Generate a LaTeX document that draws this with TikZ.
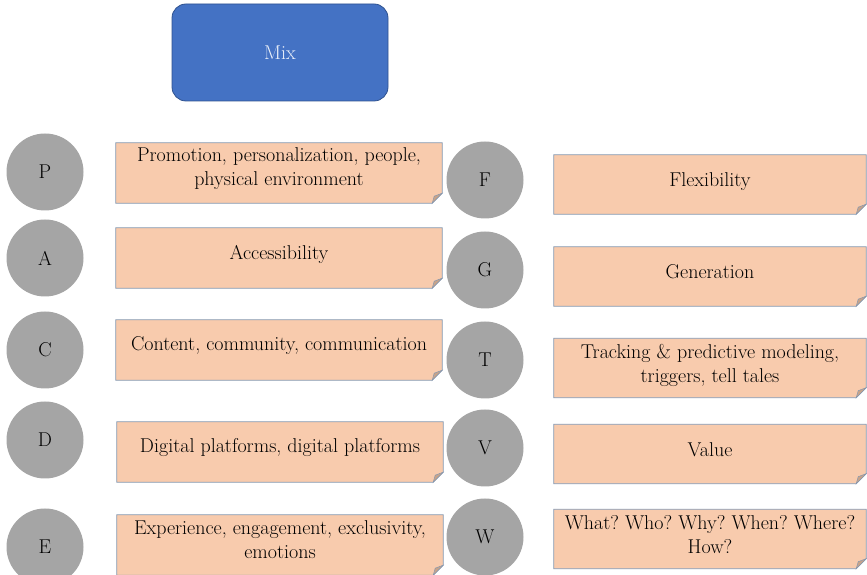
\documentclass[tikz,border=0pt]{standalone}
\frenchspacing
\usetikzlibrary{backgrounds}
\definecolor{boxfill}{RGB}{248,203,173}
\definecolor{boxline}{RGB}{132,151,176}
\definecolor{flapfill}{RGB}{199,163,138}
\definecolor{circfill}{RGB}{165,165,165}
\definecolor{mixfill}{RGB}{68,114,196}
\definecolor{mixline}{RGB}{47,82,143}
\definecolor{mixtext}{RGB}{236,241,250}
\newcommand\foldcorner[1]{%
  \begin{scope}[on background layer]
    \filldraw[fill=boxfill,draw=boxline,line width=0.8pt]
      (#1.north west) -- (#1.north east) -- ([yshift=10pt]#1.south east)
      -- ([xshift=-10pt]#1.south east) -- (#1.south west) -- cycle;
    \filldraw[fill=flapfill,draw=boxline,line width=0.5pt]
      ([yshift=10pt]#1.south east) -- ([xshift=-10pt]#1.south east)
      -- ([xshift=-8pt,yshift=7pt]#1.south east) -- cycle;
  \end{scope}}
\begin{document}
\begin{tikzpicture}[x=1pt,y=1pt,
  every node/.style={font=\rmfamily\fontsize{20}{24}\selectfont},
  letter/.style={circle,fill=circfill,minimum size=77pt,inner sep=0pt},
  lbox/.style={minimum width=326pt,minimum height=60pt,inner sep=0pt},
  rbox/.style={minimum width=312pt,minimum height=59pt,inner sep=0pt},
  boxtext/.style={align=center,inner sep=0pt},
  mixbox/.style={rounded corners=14pt,fill=mixfill,draw=mixline,line width=0.8pt,
    minimum width=216pt,minimum height=97pt,text=mixtext}]
\useasboundingbox (0,0) rectangle (867,575);
\node[mixbox] (mix) at (280,522.5) {Mix};

\node[letter] (cP) at (45,403) {P};
\node[letter] (cA) at (45,317) {A};
\node[letter] (cC) at (45,225) {C};
\node[letter] (cD) at (45,135) {D};
\node[letter] (cE) at (45,28) {E};

\node[lbox] (bP) at (279,402) {};
\node[lbox] (bA) at (279,317) {};
\node[lbox] (bC) at (279,225) {};
\node[lbox] (bD) at (280,123) {};
\node[lbox] (bE) at (280,30) {};
\foldcorner{bP}\foldcorner{bA}\foldcorner{bC}\foldcorner{bD}\foldcorner{bE}
\node[boxtext] (tP) at ([yshift=4pt]bP.center) {Promotion, personalization, people,\\physical environment};
\node[boxtext] (tA) at ([yshift=4pt]bA.center) {Accessibility};
\node[boxtext] (tC) at ([yshift=4pt]bC.center) {Content, community, communication};
\node[boxtext] (tD) at ([yshift=4pt]bD.center) {Digital platforms, digital platforms};
\node[boxtext] (tE) at ([yshift=5pt]bE.center) {Experience, engagement, exclusivity,\\emotions};

\node[letter] (cF) at (485,395) {F};
\node[letter] (cG) at (485,305) {G};
\node[letter] (cT) at (485,215) {T};
\node[letter] (cV) at (485,127) {V};
\node[letter] (cW) at (485,38) {W};

\node[rbox] (bF) at (710,390.5) {};
\node[rbox] (bG) at (710,298.5) {};
\node[rbox] (bT) at (710,207) {};
\node[rbox] (bV) at (710,121) {};
\node[rbox] (bW) at (710,36) {};
\foldcorner{bF}\foldcorner{bG}\foldcorner{bT}\foldcorner{bV}\foldcorner{bW}
\node[boxtext] (tF) at ([yshift=3pt]bF.center) {Flexibility};
\node[boxtext] (tG) at ([yshift=5pt]bG.center) {Generation};
\node[boxtext] (tT) at ([yshift=3pt]bT.center) {Tracking \& predictive modeling,\\triggers, tell tales};
\node[boxtext] (tV) at ([yshift=4pt]bV.center) {Value};
\node[boxtext] (tW) at ([yshift=4pt]bW.center) {What? Who? Why? When? Where?\\How?};
\end{tikzpicture}
\end{document}
